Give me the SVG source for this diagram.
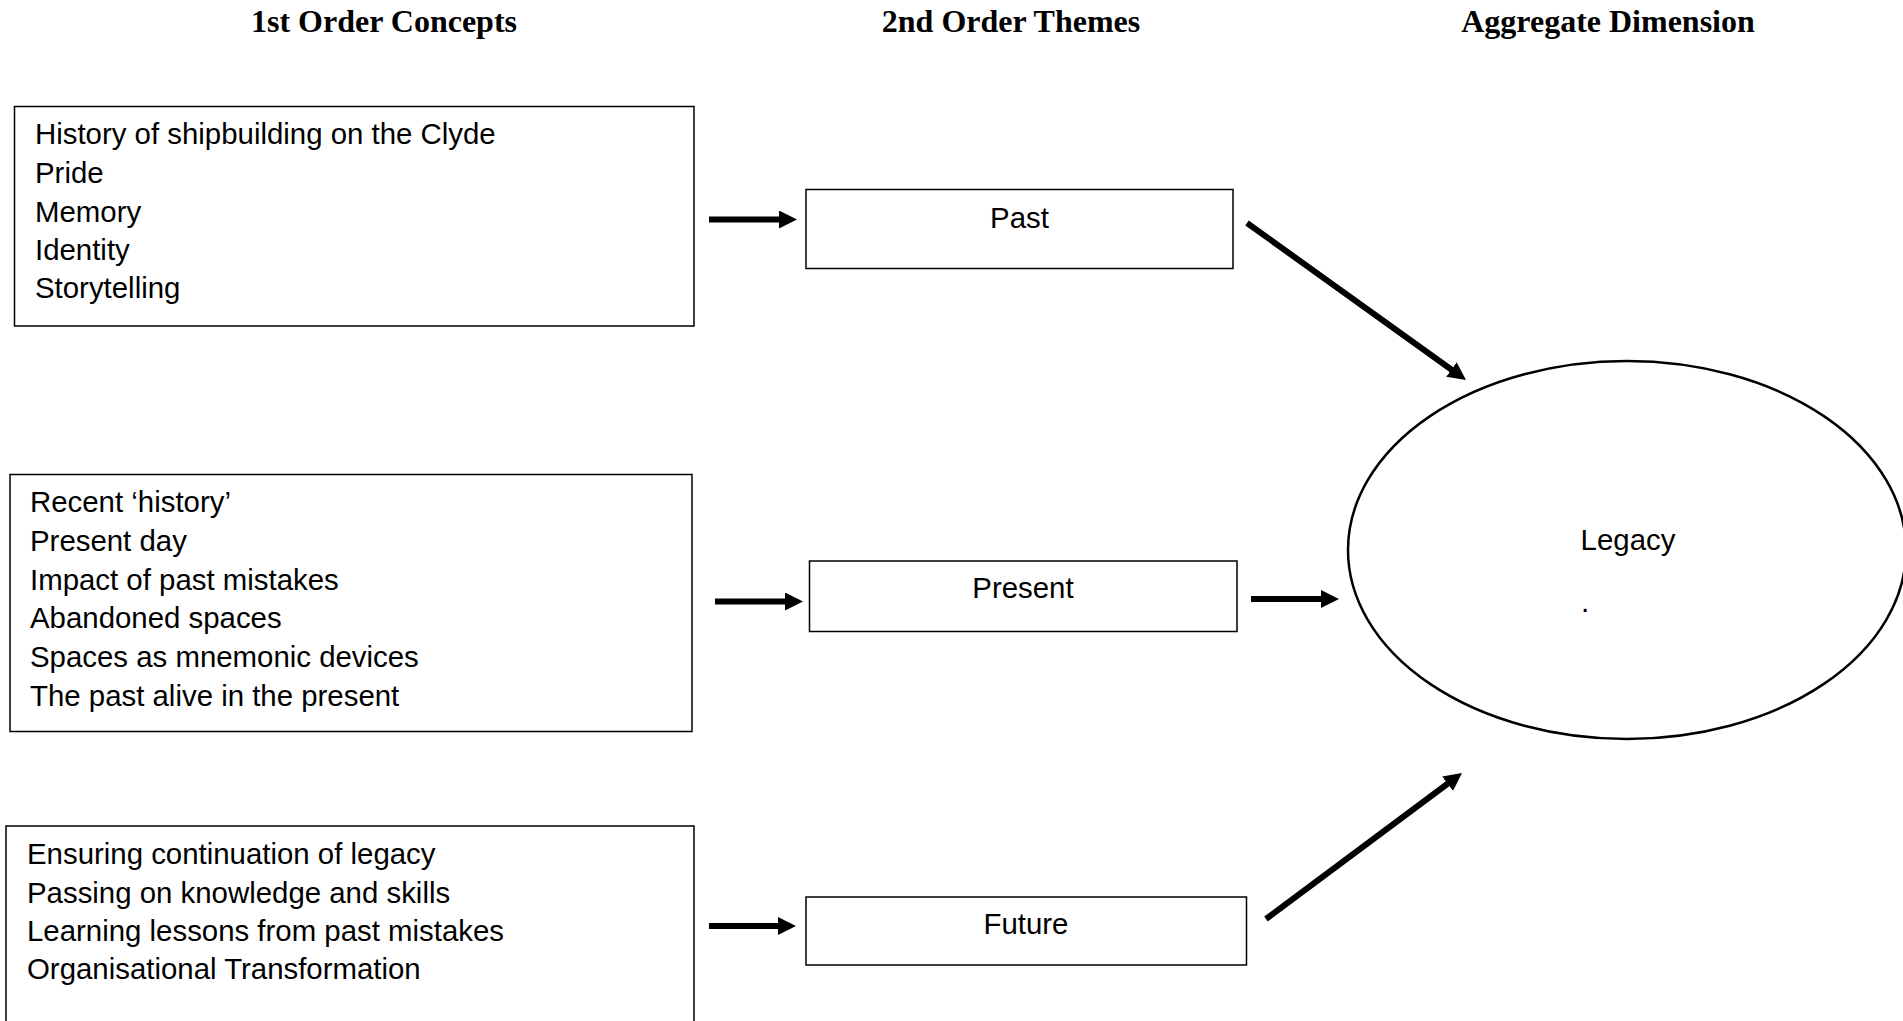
<svg xmlns="http://www.w3.org/2000/svg" width="1903" height="1021" viewBox="0 0 1903 1021">
<style>
.bg{fill:#fff}
.box{fill:#fff;stroke:#000;stroke-width:1.5}
.ell{fill:#fff;stroke:#000;stroke-width:2.5}
.h{font-family:"Liberation Serif","Times New Roman",serif;font-weight:bold;font-size:32px;fill:#000;text-anchor:middle}
.t{font-family:"Liberation Sans",Arial,sans-serif;font-size:29.4px;fill:#000}
.c{text-anchor:middle}
.arr{stroke:#000;stroke-width:6;fill:none;marker-end:url(#ah)}
</style>
<defs>
<marker id="ah" markerUnits="userSpaceOnUse" viewBox="0 0 18 18" refX="8" refY="9" markerWidth="18" markerHeight="18" orient="auto">
<path d="M0,0 L18,9 L0,18 Z" fill="#000"/>
</marker>
</defs>
<rect class="bg" x="0" y="0" width="1903" height="1021"/>
<g id="headings">
<text class="h" x="384" y="32">1st Order Concepts</text>
<text class="h" x="1011" y="32">2nd Order Themes</text>
<text class="h" x="1608" y="32">Aggregate Dimension</text>
</g>
<g id="concepts-past">
<rect class="box" x="14.5" y="106.5" width="679.5" height="219.5"/>
<text class="t" x="35" y="144">History of shipbuilding on the Clyde</text>
<text class="t" x="35" y="183">Pride</text>
<text class="t" x="35" y="222">Memory</text>
<text class="t" x="35" y="260">Identity</text>
<text class="t" x="35" y="298">Storytelling</text>
</g>
<g id="concepts-present">
<rect class="box" x="10" y="474.5" width="682" height="257"/>
<text class="t" x="30" y="512">Recent ‘history’</text>
<text class="t" x="30" y="551">Present day</text>
<text class="t" x="30" y="590">Impact of past mistakes</text>
<text class="t" x="30" y="628">Abandoned spaces</text>
<text class="t" x="30" y="667">Spaces as mnemonic devices</text>
<text class="t" x="30" y="706">The past alive in the present</text>
</g>
<g id="concepts-future">
<rect class="box" x="6" y="826" width="688" height="220"/>
<text class="t" x="27" y="864">Ensuring continuation of legacy</text>
<text class="t" x="27" y="903">Passing on knowledge and skills</text>
<text class="t" x="27" y="941">Learning lessons from past mistakes</text>
<text class="t" x="27" y="979">Organisational Transformation</text>
</g>
<g id="theme-past">
<rect class="box" x="806" y="189.5" width="427" height="79"/>
<text class="t c" x="1019.5" y="228">Past</text>
</g>
<g id="theme-present">
<rect class="box" x="809.5" y="561" width="427.5" height="70.5"/>
<text class="t c" x="1023" y="598">Present</text>
</g>
<g id="theme-future">
<rect class="box" x="806" y="897" width="440.5" height="68"/>
<text class="t c" x="1026" y="934">Future</text>
</g>
<g id="legacy">
<ellipse class="ell" cx="1627" cy="550" rx="279" ry="189"/>
<text class="t c" x="1628" y="550">Legacy</text>
<text class="t" x="1581" y="612">.</text>
</g>
<g id="connectors">
<line class="arr" x1="709" y1="219.5" x2="787" y2="219.5"/>
<line class="arr" x1="715" y1="601.5" x2="793" y2="601.5"/>
<line class="arr" x1="709" y1="926" x2="786" y2="926"/>
<line class="arr" x1="1251" y1="599" x2="1329" y2="599"/>
<line class="arr" x1="1247" y1="223" x2="1457.9" y2="374.2"/>
<line class="arr" x1="1266" y1="919" x2="1454" y2="779"/>
</g>
</svg>
